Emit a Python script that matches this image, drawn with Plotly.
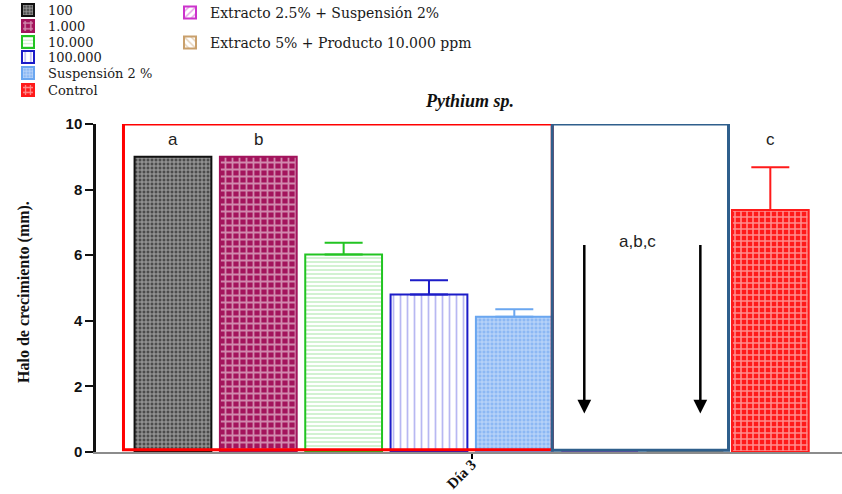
import plotly.graph_objects as go

# ---------------- data ----------------
categories = ["100", "1.000", "10.000", "100.000", "Suspensión 2 %",
              "Extracto 2.5% + Suspensión 2%", "Extracto 5% + Producto 10.000 ppm",
              "Control"]
values = [9.0, 9.0, 6.02, 4.80, 4.12, 0.0, 0.0, 7.38]
errors = [0.0, 0.0, 0.36, 0.44, 0.23, 0.0, 0.0, 1.30]
letters = ["a", "b", "", "", "", "", "", "c"]
group_letter = "a,b,c"
x_tick_positions = [3.5]
x_tick_labels = ["Día 3"]
y_ticks = [0, 2, 4, 6, 8, 10]
title_text = "Pythium sp."
y_title = "Halo de crecimiento (mm)."

# ---------------- styles ----------------
outline_colors = ["#111111", "#a3145c", "#22c422", "#1c1cc8", "#6aa6f0",
                  "#cc33cc", "#c9a06c", "#ff1a1a"]
pattern_bg = ["#4c4c4c", "#a3145c", "#ffffff", "#ffffff", "#8cb8f4",
              "#ffffff", "#ffffff", "#ff1a1a"]
pattern_fg = ["#ffffff", "#ffffff", "#7ed87e", "#7272e6", "#ffffff",
              "#cc33cc", "#c9a06c", "#ffffff"]
pattern_shape = ["+", "+", "-", "|", "+", "/", "\\", "+"]
pattern_size = [4, 7, 4, 7, 4, 6, 6, 6]
pattern_sol = [0.45, 0.45, 0.35, 0.25, 0.4, 0.3, 0.3, 0.45]

# legend placement (text start x px, centre y px, font size) per category
legend_pos = [(50, 10, 13), (50, 26, 13), (50, 42, 13), (50, 57, 13),
              (50, 73, 13), (212, 13, 14), (212, 43, 14), (50, 90, 13)]

W, H = 842, 494
plot_l, plot_r, plot_t, plot_b = 96, 0, 124, 42
pw, ph = W - plot_l - plot_r, H - plot_t - plot_b

fig = go.Figure()

for i, cat in enumerate(categories):
    lname = "legend" if i == 0 else f"legend{i + 1}"
    err = errors[i]
    fig.add_trace(go.Bar(
        x=[i], y=[values[i]], name=cat, width=0.9,
        legend=lname, showlegend=True,
        marker=dict(
            color=pattern_bg[i],
            line=dict(color=outline_colors[i], width=2),
            pattern=dict(shape=pattern_shape[i], fgcolor=pattern_fg[i],
                         bgcolor=pattern_bg[i], size=pattern_size[i],
                         solidity=pattern_sol[i], fillmode="overlay"),
        ),
        error_y=dict(type="data", symmetric=False, array=[err], arrayminus=[0],
                     visible=err > 0, color=outline_colors[i],
                     thickness=2, width=19),
        hoverinfo="skip",
    ))

layout_legends = {}
for i, (tx, cy, fs) in enumerate(legend_pos):
    key = "legend" if i == 0 else f"legend{i + 1}"
    layout_legends[key] = dict(
        x=(tx - 42) / W, y=1 - cy / H, xref="container", yref="container",
        xanchor="left", yanchor="middle", bgcolor="rgba(0,0,0,0)",
        font=dict(family="DejaVu Serif", size=fs, color="#1a1a1a"),
        itemclick=False, itemdoubleclick=False,
    )

annotations = []
for i, t in enumerate(letters):
    if t:
        annotations.append(dict(x=i, y=9.53, xref="x", yref="y", text=t,
                                showarrow=False,
                                font=dict(family="Liberation Sans", size=17,
                                          color="#222222")))
annotations.append(dict(x=5.44, y=6.41, xref="x", yref="y", text=group_letter,
                        showarrow=False,
                        font=dict(family="Liberation Sans", size=17, color="#222222")))
arrow_x = [4.82, 6.18]
arrow_from, arrow_to = 6.36, 1.17
for ax_ in arrow_x:
    annotations.append(dict(x=ax_, y=arrow_to, ax=ax_, ay=arrow_from,
                            xref="x", yref="y", axref="x", ayref="y",
                            text="", showarrow=True, arrowhead=2,
                            arrowsize=1.1, arrowwidth=2.5, arrowcolor="#000000"))
# y-axis title (placed in paper coordinates left of the axis)
annotations.append(dict(x=(24 - plot_l) / pw, y=(H - plot_b - 292) / ph,
                        xref="paper", yref="paper",
                        text=f"<b>{y_title}</b>", textangle=-90, showarrow=False,
                        xanchor="center", yanchor="middle",
                        font=dict(family="Liberation Serif", size=16,
                                  color="#111111")))

shapes = [
    dict(type="rect", xref="x", yref="y", x0=-0.58, x1=4.445, y0=0.07, y1=10,
         line=dict(color="#ff0000", width=3), layer="above"),
    dict(type="rect", xref="x", yref="y", x0=4.445, x1=6.51, y0=0.05, y1=10,
         line=dict(color="#2f5f8c", width=3), layer="above"),
]

fig.update_layout(
    width=W, height=H,
    margin=dict(l=plot_l, r=plot_r, t=plot_t, b=plot_b, autoexpand=False),
    paper_bgcolor="#ffffff", plot_bgcolor="#ffffff",
    barmode="overlay",
    title=dict(text=f"<b><i>{title_text}</i></b>", x=470 / W, y=1 - 101 / H,
               xref="container", yref="container", xanchor="center",
               yanchor="middle",
               font=dict(family="Liberation Serif", size=18, color="#111111")),
    xaxis=dict(range=[-0.902, 7.84], tickvals=x_tick_positions,
               ticktext=x_tick_labels, tickangle=-45, ticks="outside",
               ticklen=5, tickwidth=1.5, tickcolor="#000000",
               ticklabelstandoff=-9,
               showline=True, linecolor="#8c8c8c", linewidth=2,
               showgrid=False, zeroline=False,
               tickfont=dict(family="Liberation Serif", size=15,
                             color="#111111", weight="bold")),
    yaxis=dict(range=[0, 10], tickvals=y_ticks, ticks="outside", ticklen=8,
               tickwidth=2, tickcolor="#111111", showline=True,
               linecolor="#111111", linewidth=2.5, showgrid=False,
               zeroline=False, automargin=False,
               tickfont=dict(family="Liberation Sans", size=15,
                             color="#111111", weight="bold")),
    annotations=annotations,
    shapes=shapes,
    **layout_legends,
)

fig.write_html("out.html")
